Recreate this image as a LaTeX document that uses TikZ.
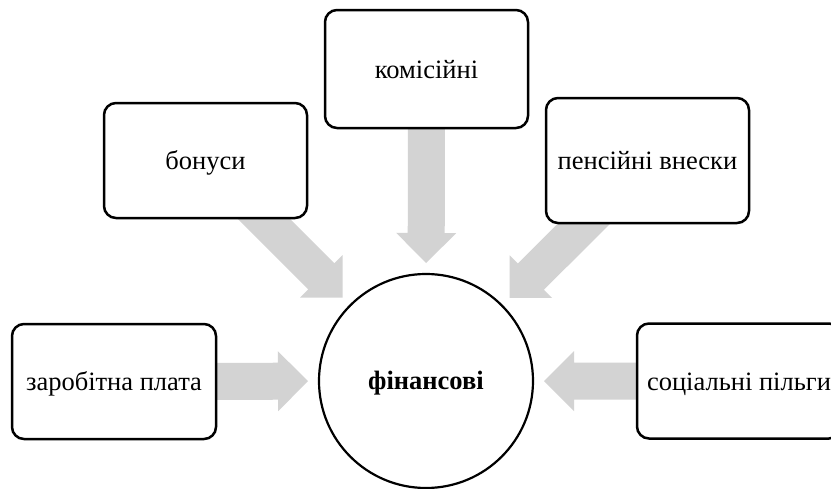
\documentclass[tikz,border=0pt]{standalone}
\usepackage{fontspec}
\setmainfont{Liberation Serif}
\usetikzlibrary{calc,backgrounds}
\definecolor{arrowgray}{RGB}{211,211,211}
\newcommand\myblockarrow[3]{%
  \coordinate (#1T) at ($(#3.center)!118pt!(#2.center)$);
  \coordinate (#1B) at ($(#1T)!30pt!(#2.center)$);
  \fill[arrowgray]
    ($(#2.center)!18.5pt!90:(#1T)$) --
    ($(#1B)!18.5pt!90:(#1T)$) --
    ($(#1B)!30pt!90:(#1T)$) --
    (#1T) --
    ($(#1B)!30pt!-90:(#1T)$) --
    ($(#1B)!18.5pt!-90:(#1T)$) --
    ($(#2.center)!18.5pt!-90:(#1T)$) -- cycle;
}
\tikzset{
  box/.style={draw, line width=2.5pt, fill=white, rounded corners=12pt,
    minimum width=203pt, minimum height=115pt, inner sep=0pt,
    text height=24pt, text depth=5.3pt,
    font=\fontsize{26.5}{32}\selectfont},
  hub/.style={draw, circle, line width=2.2pt, fill=white, minimum size=214pt,
    inner sep=0pt, text height=23pt, text depth=5.3pt,
    font=\fontsize{26.5}{32}\selectfont\bfseries}
}
\begin{document}
\begin{tikzpicture}[x=1pt,y=-1pt]
\useasboundingbox (0,0) rectangle (831,488);
\clip (0,0) rectangle (831,488);
\node[hub] (fin) at (426,381) {фінансові};
\node[box, minimum width=204pt] (zp) at (114,381.5) {заробітна плата};
\node[box, minimum width=204pt] (sp) at (739,381) {соціальні пільги};
\node[box] (bon) at (205.5,160.5) {бонуси};
\node[box, minimum height=118pt] (kom) at (426.5,69) {комісійні};
\node[box, minimum height=125pt] (pen) at (647.5,160.5) {пенсійні внески};
\begin{pgfonlayer}{background}
\myblockarrow{a1}{zp}{fin}
\myblockarrow{a2}{sp}{fin}
\myblockarrow{a3}{bon}{fin}
\myblockarrow{a4}{kom}{fin}
\myblockarrow{a5}{pen}{fin}
\end{pgfonlayer}
\end{tikzpicture}
\end{document}
